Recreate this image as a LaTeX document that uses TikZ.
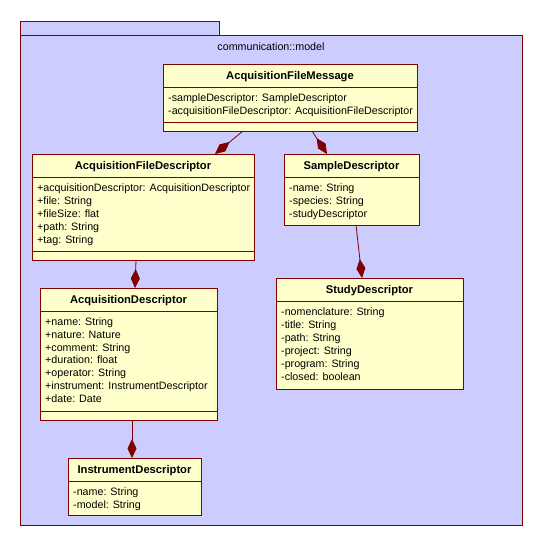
\documentclass[tikz,border=0pt]{standalone}
\usepackage{fontspec}
\setmainfont{Liberation Sans}
\usetikzlibrary{arrows.meta}
\definecolor{pkgfill}{RGB}{204,204,255}
\definecolor{clsfill}{RGB}{255,255,204}
\definecolor{umlline}{RGB}{128,0,0}
\tikzset{
  pkg/.style={draw=umlline, fill=pkgfill, line width=0.9pt},
  classbox/.style={draw=umlline, fill=clsfill, line width=0.9pt, rectangle, inner sep=0pt, outer sep=0pt, anchor=north west},
  sepline/.style={draw=umlline, line width=0.9pt},
  ctitle/.style={font=\fontsize{11.2}{13}\selectfont\bfseries, inner sep=0pt, anchor=base},
  attr/.style={font=\fontsize{10.7}{13}\selectfont, inner sep=0pt, anchor=base west},
  comp/.style={draw=umlline, line width=0.8pt, -{Diamond[length=19pt,width=9pt,fill=umlline]}}
}
\begin{document}
\begin{tikzpicture}[x=1pt,y=-1pt]
\useasboundingbox (0,0) rectangle (542,546);
% package
\path[pkg] (20,21) rectangle (219,35);
\path[pkg] (20,35) rectangle (522,525);
\node[font=\fontsize{10.7}{13}\selectfont, inner sep=0pt, anchor=base] (pkglabel) at (271,50) {communication::model};

% AcquisitionFileMessage
\node[classbox, minimum width=254pt, minimum height=67pt] (afm) at (163,64) {};
\draw[sepline] (163,87) -- (417,87);
\draw[sepline] (163,122) -- (417,122);
\node[ctitle] (afm-t) at (290,79.5) {AcquisitionFileMessage};
\foreach \t [count=\i] in {-sampleDescriptor: SampleDescriptor,-acquisitionFileDescriptor: AcquisitionFileDescriptor}
  \node[attr] (afm-a\i) at (168,{101+13*(\i-1)}) {\t};

% AcquisitionFileDescriptor
\node[classbox, minimum width=222pt, minimum height=106pt] (afd) at (32,154) {};
\draw[sepline] (32,177) -- (254,177);
\draw[sepline] (32,251) -- (254,251);
\node[ctitle] (afd-t) at (143,169.5) {AcquisitionFileDescriptor};
\foreach \t [count=\i] in {+acquisitionDescriptor: AcquisitionDescriptor,+file: String,+fileSize: flat,+path: String,+tag: String}
  \node[attr] (afd-a\i) at (37,{191+13*(\i-1)}) {\t};

% SampleDescriptor
\node[classbox, minimum width=135pt, minimum height=71pt] (sd) at (284,154) {};
\draw[sepline] (284,177) -- (419,177);
\node[ctitle] (sd-t) at (351.5,169.5) {SampleDescriptor};
\foreach \t [count=\i] in {-name: String,-species: String,-studyDescriptor}
  \node[attr] (sd-a\i) at (289,{191+13*(\i-1)}) {\t};

% AcquisitionDescriptor
\node[classbox, minimum width=177pt, minimum height=132pt] (ad) at (40,288) {};
\draw[sepline] (40,311) -- (217,311);
\draw[sepline] (40,411) -- (217,411);
\node[ctitle] (ad-t) at (128.5,303.5) {AcquisitionDescriptor};
\foreach \t [count=\i] in {+name: String,+nature: Nature,+comment: String,+duration: float,+operator: String,+instrument: InstrumentDescriptor,+date: Date}
  \node[attr] (ad-a\i) at (45,{325.5+12.8*(\i-1)}) {\t};

% StudyDescriptor
\node[classbox, minimum width=187pt, minimum height=111pt] (std) at (276,278) {};
\draw[sepline] (276,301) -- (463,301);
\node[ctitle] (std-t) at (369.5,293.5) {StudyDescriptor};
\foreach \t [count=\i] in {-nomenclature: String,-title: String,-path: String,-project: String,-program: String,-closed: boolean}
  \node[attr] (std-a\i) at (281,{315+13*(\i-1)}) {\t};

% InstrumentDescriptor
\node[classbox, minimum width=133pt, minimum height=57pt] (id) at (68,458) {};
\draw[sepline] (68,481) -- (201,481);
\node[ctitle] (id-t) at (134.5,473.5) {InstrumentDescriptor};
\foreach \t [count=\i] in {-name: String,-model: String}
  \node[attr] (id-a\i) at (73,{495+13*(\i-1)}) {\t};

% connection points
\coordinate (afm-s1) at (243,131);
\coordinate (afm-s2) at (312,131);
\coordinate (afd-n) at (215,154);
\coordinate (sd-n) at (327,154);
\coordinate (afd-s) at (136,260);
\coordinate (ad-n) at (135,288);
\coordinate (sd-s) at (356,225);
\coordinate (std-n) at (362,278);
\coordinate (ad-s) at (132,420);
\coordinate (id-n) at (132,458);

\draw[comp] (afm-s1) -- (afd-n);
\draw[comp] (afm-s2) -- (sd-n);
\draw[comp] (afd-s) -- (ad-n);
\draw[comp] (sd-s) -- (std-n);
\draw[comp] (ad-s) -- (id-n);
\end{tikzpicture}
\end{document}
